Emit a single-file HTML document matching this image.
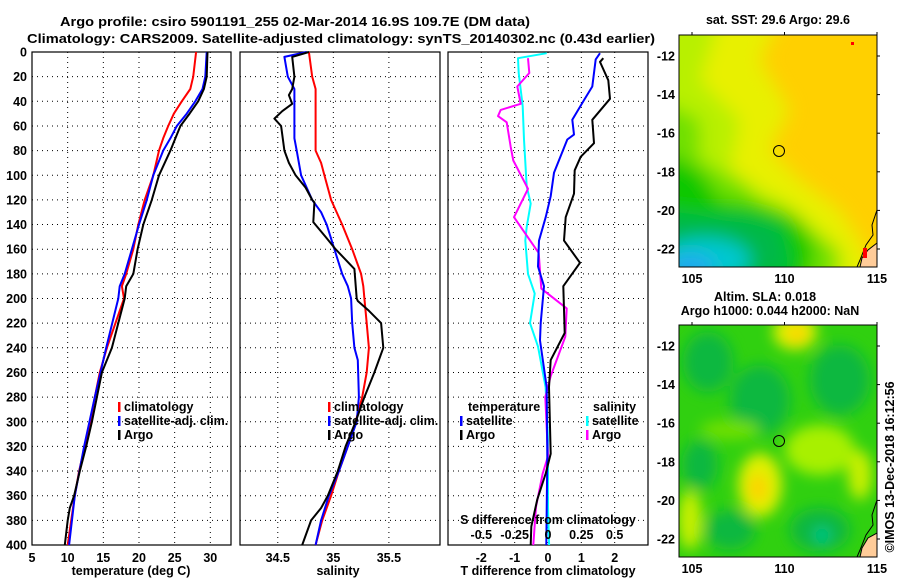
<!DOCTYPE html>
<html><head><meta charset="utf-8">
<style>
html,body{margin:0;padding:0;background:#fff;}
svg{display:block;}
text{font-family:"Liberation Sans",sans-serif;font-weight:bold;font-size:12.5px;fill:#000;}
</style></head>
<body>
<svg id="fig" width="900" height="580" viewBox="0 0 900 580">
  <defs>
    <filter id="blur1" x="-20%" y="-20%" width="140%" height="140%"><feGaussianBlur stdDeviation="9"/></filter>
    <filter id="blur2" x="-20%" y="-20%" width="140%" height="140%"><feGaussianBlur stdDeviation="7"/></filter>
    <clipPath id="clipTop"><rect x="679" y="35" width="198" height="232"/></clipPath>
    <clipPath id="clipBot"><rect x="679" y="325" width="198" height="232"/></clipPath>
  </defs>
  <text x="60" y="26" font-size="14.5" textLength="470" lengthAdjust="spacingAndGlyphs">Argo profile: csiro 5901191_255 02-Mar-2014 16.9S 109.7E (DM data)</text>
  <text x="27" y="43" font-size="14.5" textLength="628" lengthAdjust="spacingAndGlyphs">Climatology: CARS2009. Satellite-adjusted climatology: synTS_20140302.nc (0.43d earlier)</text>

  <!-- maps -->
  <g clip-path="url(#clipTop)">
    <rect x="679" y="35" width="198" height="232" fill="#ffd000"/>
    <g filter="url(#blur1)">
      <polygon points="660,20 780,20 760,60 790,110 770,150 800,180 840,210 860,240 890,300 660,300" fill="#e8f000"/>
      <polygon points="660,20 720,20 700,80 740,120 730,170 760,190 780,200 820,230 850,270 660,300" fill="#b8f000"/>
      <polygon points="660,100 700,120 700,160 740,180 760,200 790,210 810,230 840,250 830,300 660,300" fill="#70e000"/>
      <polygon points="660,150 700,170 720,200 760,205 800,220 815,250 800,300 660,300" fill="#10c800"/>
      <polygon points="660,210 700,215 740,215 780,225 790,270 660,290" fill="#00b848"/>
      <ellipse cx="705" cy="260" rx="45" ry="22" fill="#00c8d0"/>
      <ellipse cx="690" cy="268" rx="25" ry="14" fill="#20a8f0"/>
    </g>
    <rect x="851" y="42" width="3" height="3" fill="#ff0000"/>
    <polygon points="877,243 868,250 862,258 860,267 877,267" fill="#ffcc99" stroke="#000" stroke-width="1"/>
    <polyline points="877,210 872,225 873,235 866,245 860,260 857,267" fill="none" stroke="#000" stroke-width="1"/>
    <rect x="863" y="248" width="4" height="10" fill="#ff0000"/>
    <circle cx="779" cy="151" r="5.5" fill="none" stroke="#000" stroke-width="1"/>
  </g>
  <rect x="679" y="35" width="198" height="232" fill="none" stroke="#000" stroke-width="1"/>
  <text x="778" y="24" text-anchor="middle">sat. SST: 29.6 Argo: 29.6</text>

  <g clip-path="url(#clipBot)">
    <rect x="679" y="325" width="198" height="232" fill="#30d010"/>
    <g filter="url(#blur2)">
      <ellipse cx="708" cy="362" rx="25" ry="30" fill="#10b840"/>
      <ellipse cx="760" cy="400" rx="30" ry="35" fill="#10b840"/>
      <ellipse cx="840" cy="380" rx="30" ry="35" fill="#10b840"/>
      <ellipse cx="700" cy="465" rx="18" ry="25" fill="#10b840"/>
      <ellipse cx="730" cy="530" rx="25" ry="20" fill="#10b840"/>
      <ellipse cx="820" cy="530" rx="30" ry="22" fill="#10b840"/>
      <ellipse cx="795" cy="332" rx="22" ry="18" fill="#e0f000"/>
      <ellipse cx="797" cy="334" rx="10" ry="8" fill="#ffd000"/>
      <ellipse cx="760" cy="485" rx="22" ry="32" fill="#e0f000"/>
      <ellipse cx="758" cy="488" rx="9" ry="14" fill="#ffd000"/>
      <ellipse cx="820" cy="450" rx="35" ry="25" fill="#a8f000"/>
      <ellipse cx="860" cy="475" rx="12" ry="25" fill="#c8f000"/>
      <ellipse cx="690" cy="520" rx="12" ry="30" fill="#c8f000"/>
      <ellipse cx="730" cy="430" rx="30" ry="10" fill="#70e000"/>
      <ellipse cx="822" cy="535" rx="8" ry="8" fill="#00c890"/>
    </g>
    <polygon points="877,533 868,538 862,548 860,557 877,557" fill="#ffcc99" stroke="#000" stroke-width="1"/>
    <polyline points="877,500 872,515 873,525 866,535 860,550 857,557" fill="none" stroke="#000" stroke-width="1"/>
    <circle cx="779" cy="441" r="5.5" fill="none" stroke="#000" stroke-width="1"/>
  </g>
  <rect x="679" y="325" width="198" height="232" fill="none" stroke="#000" stroke-width="1"/>
  <text x="765" y="301" text-anchor="middle">Altim. SLA: 0.018</text>
  <text x="770" y="315" text-anchor="middle">Argo h1000: 0.044 h2000: NaN</text>
  <text transform="translate(894,467) rotate(-90)" text-anchor="middle" font-weight="normal" font-size="12">©IMOS 13-Dec-2018 16:12:56</text>
  <g id="maplabels"></g>
  <g id="panels"></g>
</svg>
<script>
// ---- data ----
var depthTicks = [0,20,40,60,80,100,120,140,160,180,200,220,240,260,280,300,320,340,360,380,400];
var tempTicks = [5,10,15,20,25,30];
var salTicks = [34.5,35,35.5];
var tdiffTicks = [-2,-1,0,1,2];
var sdiffTicks = [-0.5,-0.25,0,0.25,0.5];
var lonTicks = [105,110,115];
var latTicks = [-12,-14,-16,-18,-20,-22];

var tClimDepth = [0,20,30,40,50,60,70,80,100,120,140,160,180,190,200,240,260,280,300,320,340,360,380,400];
var tClim      = [28.0,27.6,27.2,26.0,24.9,24.1,23.4,22.8,22.0,20.8,19.9,19.2,18.2,17.6,17.9,15.5,14.5,13.8,13.2,12.4,11.6,11.0,10.5,10.0];
var tSatDepth  = [0,20,30,40,50,60,70,80,100,120,140,160,180,190,200,240,280,320,360,400];
var tSat       = [29.5,29.3,28.9,27.9,26.7,25.3,24.4,23.4,22.0,21.1,20.0,19.0,18.0,17.3,17.1,15.4,13.8,12.3,11.0,10.2];
var tArgoDepth = [0,20,30,40,50,60,70,80,100,120,140,160,180,190,200,240,260,280,300,320,340,360,370,380,400];
var tArgo      = [29.6,29.5,29.1,28.3,27.1,25.8,25.1,24.4,22.8,21.8,20.6,19.8,19.2,18.2,18.0,16.2,14.8,14.1,13.4,12.6,11.7,10.9,10.3,10.0,9.6];

var sClimDepth = [0,20,30,80,90,100,120,140,160,180,190,200,220,240,260,280,300,320,340,360,380,400];
var sClim      = [34.78,34.81,34.84,34.84,34.89,34.92,34.98,35.08,35.17,35.25,35.27,35.28,35.30,35.32,35.30,35.26,35.20,35.13,35.05,34.98,34.90,34.84];
var sSatDepth  = [0,4,20,30,70,80,100,120,130,140,160,180,190,200,220,240,250,280,290,300,320,340,360,380,400];
var sSat       = [34.76,34.56,34.59,34.65,34.65,34.67,34.71,34.81,34.89,34.94,35.01,35.08,35.13,35.16,35.17,35.19,35.22,35.23,35.22,35.21,35.13,35.05,34.96,34.89,34.84];
var sArgoDepth = [0,4,20,30,35,42,48,54,60,80,90,100,110,120,122,138,150,160,176,200,202,210,220,240,260,280,300,320,340,360,370,380,400];
var sArgo      = [34.78,34.63,34.65,34.63,34.60,34.63,34.54,34.47,34.53,34.56,34.60,34.66,34.75,34.81,34.83,34.82,34.93,35.02,35.19,35.21,35.22,35.32,35.43,35.45,35.37,35.28,35.20,35.11,35.04,34.95,34.89,34.80,34.72];

var dtSatDepth  = [1,6,28,39,55,67,71,98,117,134,153,174,190,220,234,272,328,400];
var dtSat       = [1.56,1.43,1.33,1.08,0.73,0.78,0.58,0.18,0.08,-0.07,-0.27,-0.30,-0.12,-0.22,-0.24,-0.04,-0.02,-0.05];
var dtArgoDepth = [5,8,23,38,55,74,85,96,115,134,153,171,190,228,250,272,326,342,363,385,400];
var dtArgo      = [1.66,1.56,1.81,1.86,1.33,1.38,0.98,0.80,0.78,0.53,0.48,0.96,0.46,0.50,0.08,0.03,0.08,-0.07,-0.32,-0.50,-0.52];
var dsSatDepth  = [1,5,17,44,71,109,123,142,153,180,196,220,239,272,315,369,400];
var dsSat       = [-0.01,-0.225,-0.22,-0.19,-0.18,-0.16,-0.13,-0.16,-0.17,-0.15,-0.10,-0.135,-0.075,-0.018,0,0,0.008];
var dsArgoDepth = [5,17,28,42,47,52,57,77,88,111,134,163,192,208,231,263,280,328,342,369,400];
var dsArgo      = [-0.15,-0.14,-0.23,-0.205,-0.355,-0.375,-0.31,-0.28,-0.26,-0.15,-0.255,-0.07,-0.05,0.14,0.13,0.02,-0.02,0,-0.04,-0.09,-0.11];

// ---- helpers ----
var NS = 'http://www.w3.org/2000/svg';
var root = document.getElementById('panels');
function mk(tag, attrs, parent){ var e=document.createElementNS(NS,tag); for(var k in attrs) e.setAttribute(k,attrs[k]); (parent||root).appendChild(e); return e; }
var Y0=52, Y1=545;
function yD(d){ return Y0 + d*(Y1-Y0)/400; }
function lin(d0,d1,r0,r1){ return function(v){ return r0+(v-d0)*(r1-r0)/(d1-d0); }; }

var panels = [
  {name:'temperature', x0:32, x1:231, sx:lin(5,32.9,32,231), ticks:tempTicks},
  {name:'salinity', x0:240, x1:440, sx:lin(34.16,35.96,240,440), ticks:salTicks},
  {name:'difference', x0:448, x1:648, sx:lin(-3,3,448,648), ticks:tdiffTicks}
];

panels.forEach(function(p, pi){
  var g = mk('g',{});
  
  
  depthTicks.forEach(function(d){
    if(d===0||d===400) return;
    var l = mk('line',{x1:p.x0,x2:p.x1,y1:yD(d),y2:yD(d),stroke:'#000','stroke-width':1,'stroke-dasharray':'1,4'},g);
    
    
  });
  p.ticks.forEach(function(t){
    var x = p.sx(t);
    if(x>p.x0+1 && x<p.x1-1){
      var l = mk('line',{x1:x,x2:x,y1:Y0,y2:Y1,stroke:'#000','stroke-width':1,'stroke-dasharray':'1,4'},g);
      
      
    }
    var tx = mk('text',{x:x,y:Y1+17,'text-anchor':'middle'},g);
    tx.textContent = String(t);
    
    
  });
  var fr = mk('rect',{x:p.x0,y:Y0,width:p.x1-p.x0,height:Y1-Y0,fill:'none',stroke:'#000','stroke-width':1.2},g);
  
  
  p.g = g;
});

depthTicks.forEach(function(d){
  var t = mk('text',{x:27,y:yD(d)+4.5,'text-anchor':'end'});
  t.textContent = String(d);
  
  
});

function series(p, depths, vals, color, name, w){
  var pts = depths.map(function(d,i){ return p.sx(vals[i]).toFixed(1)+','+yD(d).toFixed(1); }).join(' ');
  var pl = mk('polyline',{points:pts,fill:'none',stroke:color,'stroke-width':w||2,'stroke-linejoin':'round'},p.g);
  
  
}
var P0=panels[0], P1=panels[1], P2=panels[2];
series(P0,tClimDepth,tClim,'#ff0000','temp-climatology-line');
series(P0,tSatDepth,tSat,'#0000ff','temp-satellite-line');
series(P0,tArgoDepth,tArgo,'#000000','temp-argo-line');
series(P1,sClimDepth,sClim,'#ff0000','sal-climatology-line');
series(P1,sSatDepth,sSat,'#0000ff','sal-satellite-line');
series(P1,sArgoDepth,sArgo,'#000000','sal-argo-line');
var sdx = lin(-0.75,0.75,448,648);
var P2s = {sx:sdx, g:P2.g};
series(P2s,dsSatDepth,dsSat,'#00ffff','sdiff-satellite-line');
series(P2s,dsArgoDepth,dsArgo,'#ff00ff','sdiff-argo-line');
series(P2,dtSatDepth,dtSat,'#0000ff','tdiff-satellite-line');
series(P2,dtArgoDepth,dtArgo,'#000000','tdiff-argo-line');

// S diff ticks
sdiffTicks.forEach(function(t){
  var tx = mk('text',{x:sdx(t),y:539,'text-anchor':'middle'});
  tx.textContent = String(t);
  
  
});
function label(x,y,txt,name,anchor){
  var t=mk('text',{x:x,y:y,'text-anchor':anchor||'start'}); t.textContent=txt;
  
  
  return t;
}
label(548,524,'S difference from climatology','sdiff-axis-title','middle');
label(131,575,'temperature (deg C)','temp-axis-title','middle');
label(338,575,'salinity','sal-axis-title','middle');
label(548,575,'T difference from climatology','tdiff-axis-title','middle');

function legend(x,y,color,txt,name){
  var r=mk('rect',{x:x,y:y-9,width:2.5,height:10,fill:color});
  
  
  label(x+6,y,txt,name);
}
legend(118,411,'#ff0000','climatology','legend-temp-climatology');
legend(118,425,'#0000ff','satellite-adj. clim.','legend-temp-satellite');
legend(118,439,'#000000','Argo','legend-temp-argo');
legend(328,411,'#ff0000','climatology','legend-sal-climatology');
legend(328,425,'#0000ff','satellite-adj. clim.','legend-sal-satellite');
legend(328,439,'#000000','Argo','legend-sal-argo');
label(468,411,'temperature','legend-temperature-heading');
legend(460,425,'#0000ff','satellite','legend-tdiff-satellite');
legend(460,439,'#000000','Argo','legend-tdiff-argo');
label(593,411,'salinity','legend-salinity-heading');
legend(586,425,'#00ffff','satellite','legend-sdiff-satellite');
legend(586,439,'#ff00ff','Argo','legend-sdiff-argo');

// map axes
var ml = document.getElementById('maplabels');
var lonX = lin(105,115,692,877);
[[35,267],[325,557]].forEach(function(m){
  var latY = lin(-12,-22,m[0]+21,m[0]+214);
  lonTicks.forEach(function(v){
    var x=lonX(v);
    var tk=mk('line',{x1:x,x2:x,y1:m[0]-3,y2:m[0]},ml);
    tk.setAttribute('stroke','#000');
    
    
    var t=mk('text',{x:x,y:m[1]+16,'text-anchor':'middle'},ml); t.textContent=String(v);
    
    
  });
  latTicks.forEach(function(v){
    var y=latY(v);
    var tk=mk('line',{x1:877,x2:880,y1:y,y2:y,stroke:'#000'},ml);
    
    
    var t=mk('text',{x:675,y:y+4.5,'text-anchor':'end'},ml); t.textContent=String(v);
    
    
  });
});
</script>
</body></html>
